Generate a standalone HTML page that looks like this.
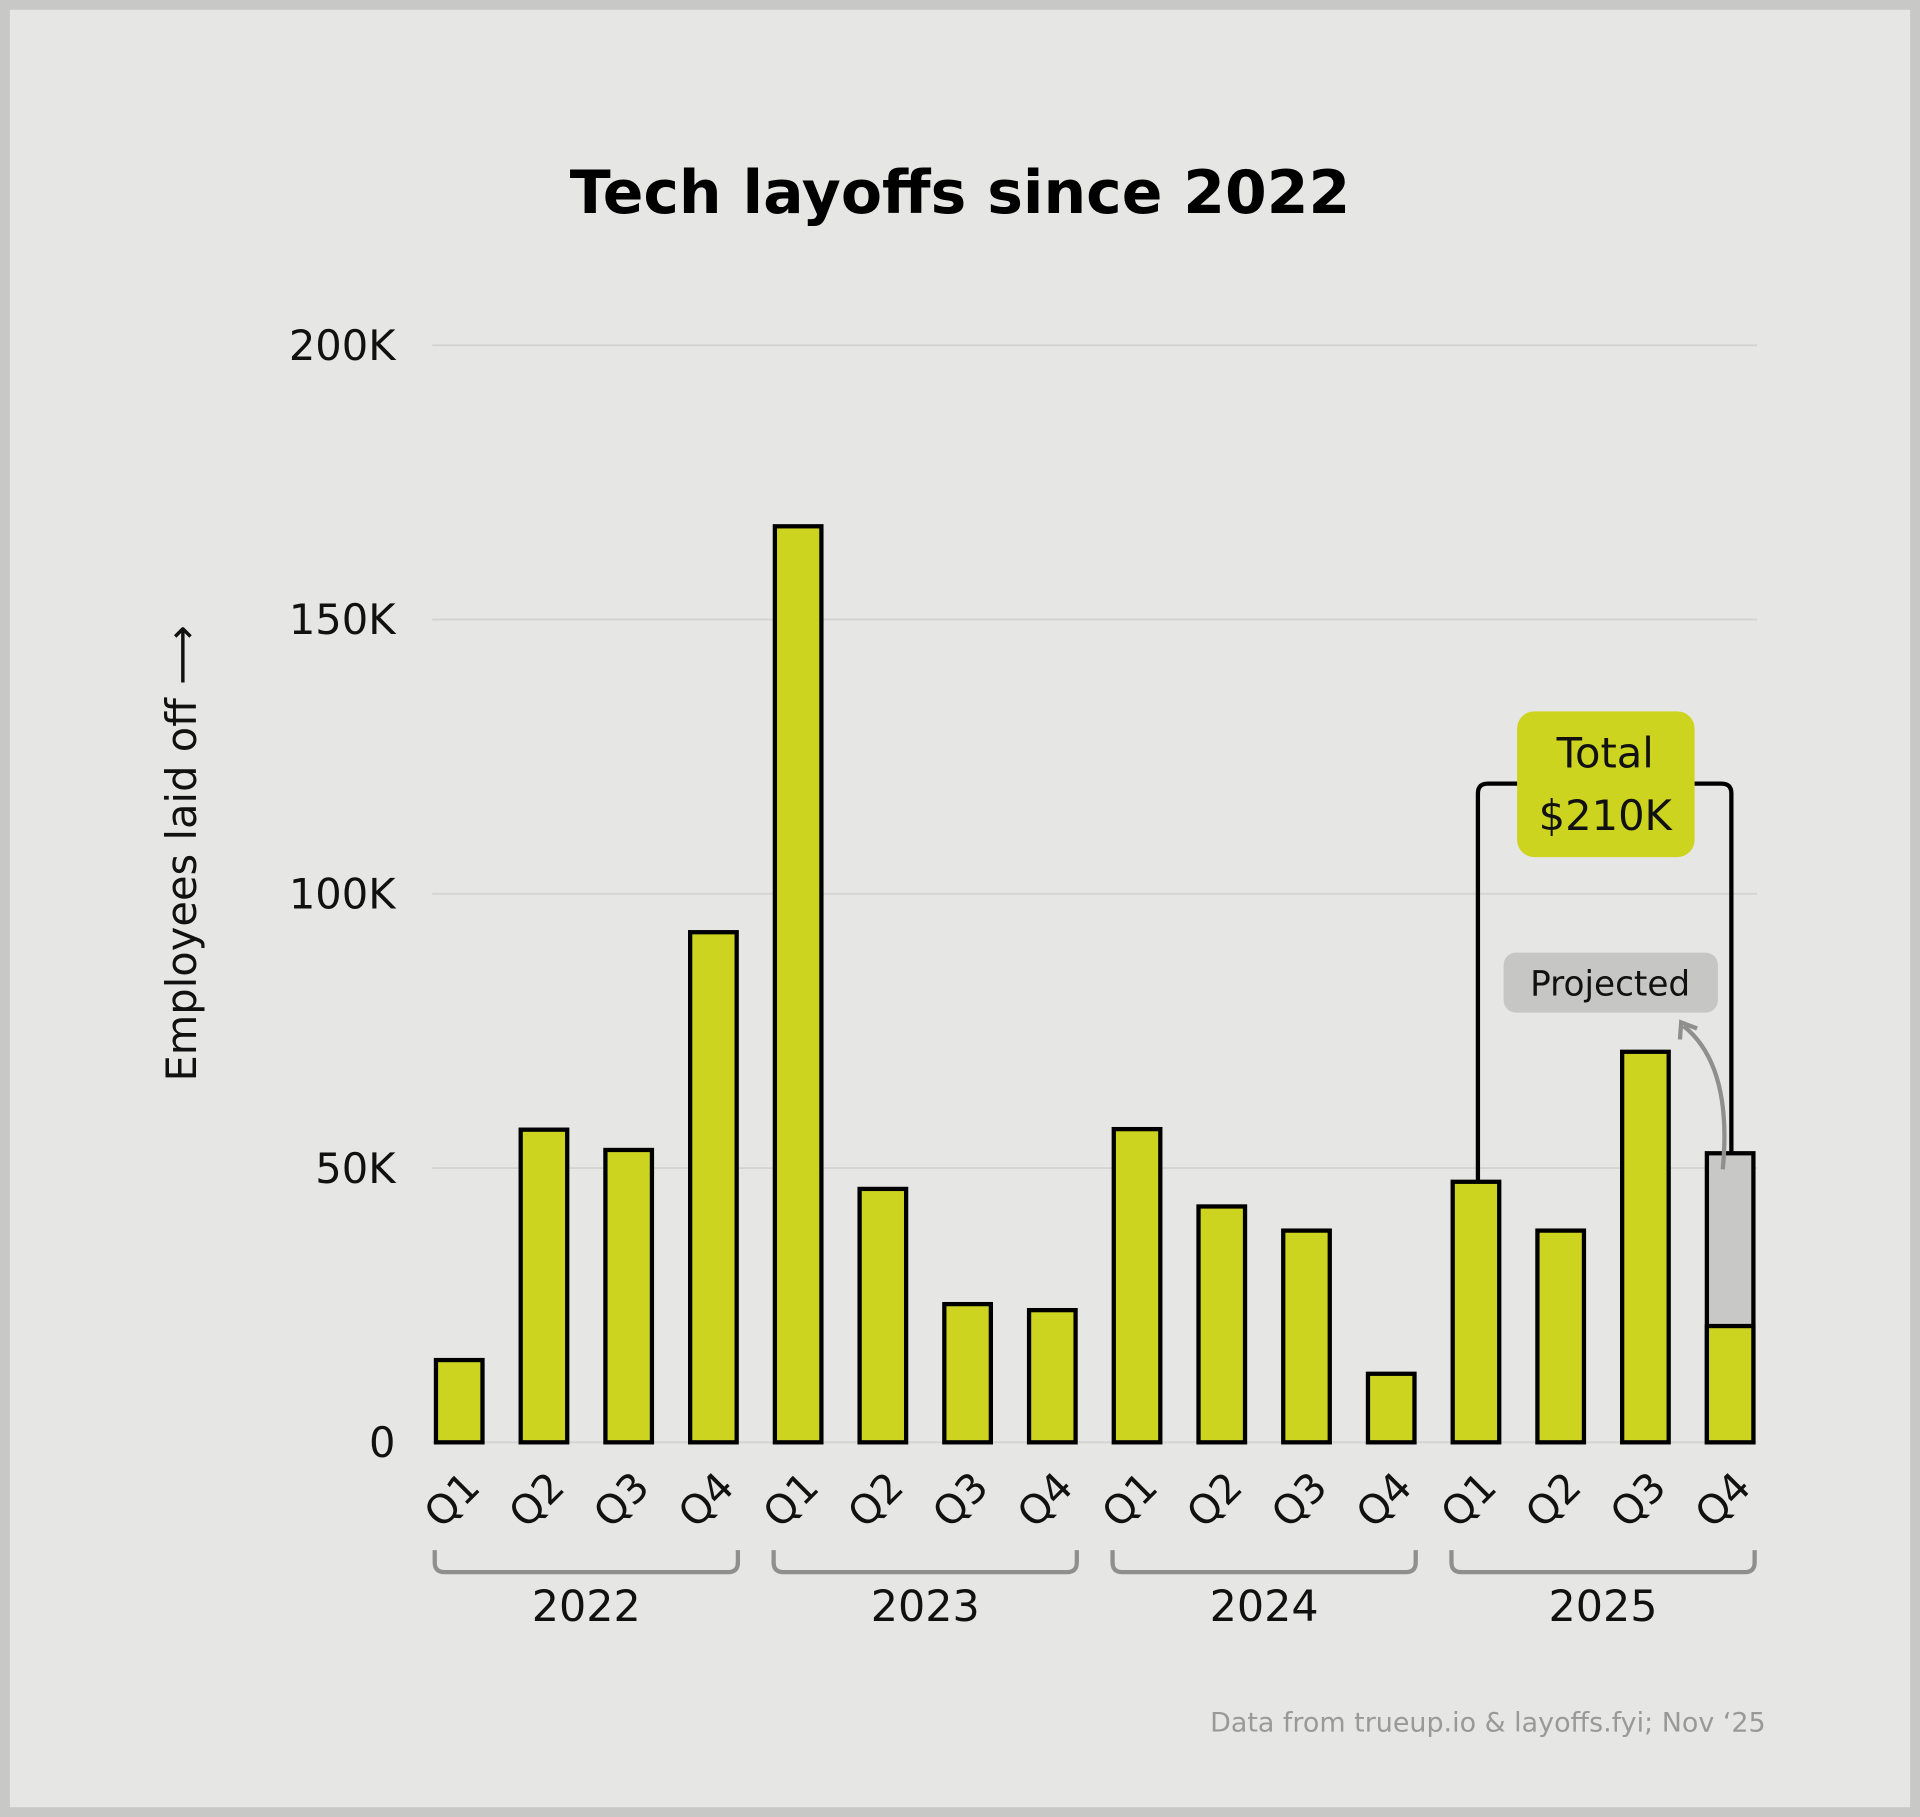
<!DOCTYPE html>
<html><head><meta charset="utf-8"><style>
html,body{margin:0;padding:0;background:#c8c8c6;}
svg{display:block;font-family:"DejaVu Sans","Liberation Sans",sans-serif;}
</style></head><body>
<svg id="chart" width="1920" height="1817" viewBox="0 0 1568 1484" xmlns="http://www.w3.org/2000/svg">
<rect x="0" y="0" width="1568" height="1484" fill="#c8c8c6"/>
<rect x="8" y="8" width="1552" height="1468" fill="#e6e7e4"/>
<text x="784" y="174" text-anchor="middle" font-size="49" font-weight="bold" fill="#000">Tech layoffs since 2022</text>
<g id="grid"></g>
<g id="bars"></g>
<g id="xlabels"></g>
<text transform="translate(160,697) rotate(-90)" text-anchor="middle" font-size="34" fill="#111">Employees laid off ⟶</text>
<path d="M1207,965 V648 Q1207,640 1215,640 H1406 Q1414,640 1414,648 V942" fill="none" stroke="#000" stroke-width="3.5"/>
<rect x="1239" y="581" width="145" height="119" rx="14" fill="#cdd41f"/>
<text x="1311" y="627" text-anchor="middle" font-size="34" fill="#111">Total</text>
<text x="1311" y="678" text-anchor="middle" font-size="34" fill="#111">$210K</text>
<rect x="1228" y="778" width="175" height="49" rx="10" fill="#c6c6c5"/>
<text x="1315" y="813" text-anchor="middle" font-size="28" fill="#111">Projected</text>
<path d="M1407,955 Q1415,870 1375,838" fill="none" stroke="#8f908e" stroke-width="3.5"/>
<path d="M1372,849 L1373,835 L1386,840" fill="none" stroke="#8f908e" stroke-width="3.5"/>
<text x="1442" y="1414" text-anchor="end" font-size="22" fill="#999">Data from trueup.io &amp; layoffs.fyi; Nov ‘25</text>
</svg>
<script>
const quarters=["Q1","Q2","Q3","Q4","Q1","Q2","Q3","Q4","Q1","Q2","Q3","Q4","Q1","Q2","Q3","Q4"];
const values=[15,57,53.3,93,167,46.2,25.2,24.1,57.1,43,38.6,12.5,47.5,38.6,71.2,21.2];
const projected=[0,0,0,0,0,0,0,0,0,0,0,0,0,0,0,52.7];
const years=["2022","2023","2024","2025"];
const yTicks=[0,50,100,150,200];
const yTickLabels=["0","50K","100K","150K","200K"];
const NS="http://www.w3.org/2000/svg";
function y(v){return 1178-v*4.48;}
function x(i){return 356+i*69.2;}
const BW=38;
function mk(tag,attrs,parent){const e=document.createElementNS(NS,tag);for(const k in attrs)e.setAttribute(k,attrs[k]);parent.appendChild(e);return e;}
const grid=document.getElementById('grid');
yTicks.forEach((t,i)=>{
  const l=mk('line',{x1:353,x2:1435,y1:y(t),y2:y(t),stroke:'#d3d4d1','stroke-width':1.5},grid);
  
  
  const tx=mk('text',{x:323,y:y(t)+12,'text-anchor':'end','font-size':34,fill:'#111'},grid);
  tx.textContent=yTickLabels[i];
  
  
});
const bars=document.getElementById('bars');
values.forEach((v,i)=>{
  if(projected[i]>0){
    const p=mk('rect',{x:x(i),y:y(projected[i]),width:BW,height:y(0)-y(projected[i]),fill:'#c8c8c6',stroke:'#000','stroke-width':3.5},bars);
    
    
  }
  const r=mk('rect',{x:x(i),y:y(v),width:BW,height:y(0)-y(v),fill:'#cdd41f',stroke:'#000','stroke-width':3.5},bars);
  
  
});
const xl=document.getElementById('xlabels');
quarters.forEach((q,i)=>{
  const cx=x(i)+BW/2;
  const t=mk('text',{x:0,y:0,'text-anchor':'middle','font-size':33,fill:'#111',transform:`translate(${cx+2},${1233}) rotate(-45)`},xl);
  t.textContent=q;
  
  
});
years.forEach((yr,j)=>{
  const x0=x(j*4)-1,x1=x(j*4+3)+BW+1;
  const p=mk('path',{d:`M${x0},1266 V1276 Q${x0},1284 ${x0+8},1284 H${x1-8} Q${x1},1284 ${x1},1276 V1266`,fill:'none',stroke:'#8f908e','stroke-width':3.5},xl);
  
  
  const t=mk('text',{x:(x0+x1)/2,y:1324,'text-anchor':'middle','font-size':35,fill:'#111'},xl);
  t.textContent=yr;
  
  
});
</script>
</body></html>
